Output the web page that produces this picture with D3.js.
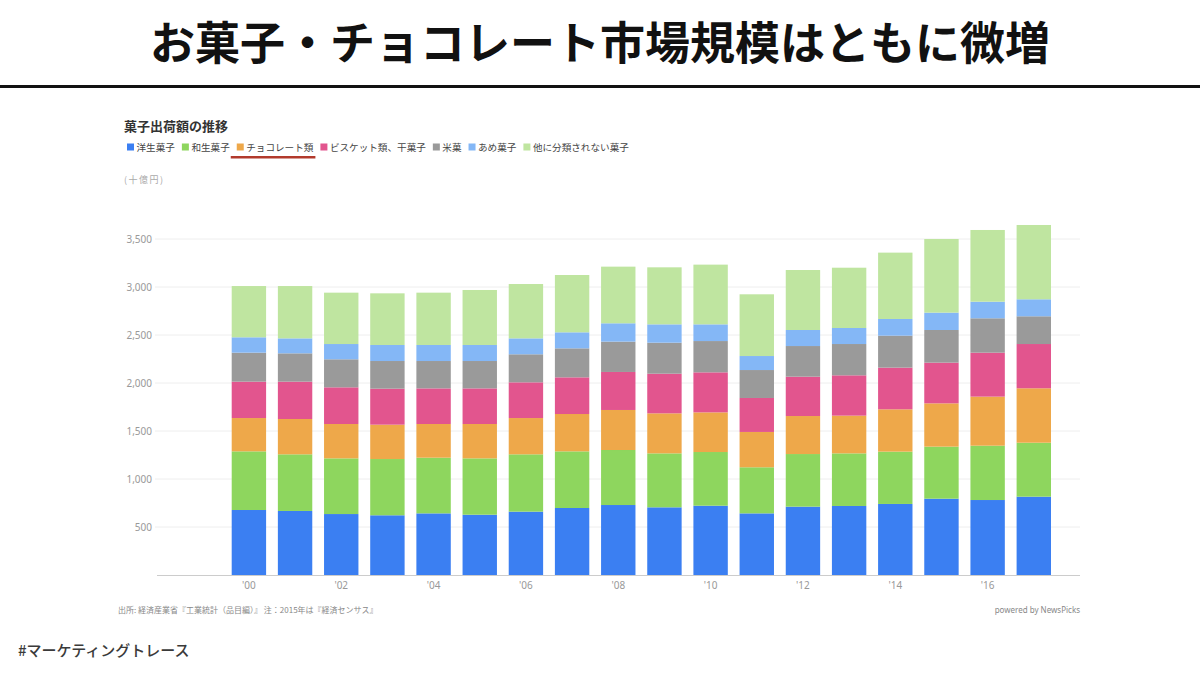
<!DOCTYPE html>
<html><head><meta charset="utf-8">
<script src="https://cdn.jsdelivr.net/npm/d3@7"></script>
<style>
html,body{margin:0;padding:0;background:#fff;}
svg{display:block;font-family:"Noto Sans CJK JP","Noto Sans",sans-serif;}
</style></head>
<body>
<svg id="c" width="1200" height="675"></svg>
<script>
const years = [2000,2001,2002,2003,2004,2005,2006,2007,2008,2009,2010,2011,2012,2013,2014,2015,2016,2017];
const seriesNames = ["洋生菓子","和生菓子","チョコレート類","ビスケット類、干菓子","米菓","あめ菓子","他に分類されない菓子"];
const seriesColors = ["#3b7ff2","#8ed65e","#eea84a","#e2558e","#9a9a9a","#84b7f6","#bfe5a0"];
const yoka   = [677,667,635,622,642,628,660,698,729,705,722,642,712,719,740,795,781,816];
const wagashi= [611,590,580,586,580,587,597,590,573,562,559,480,548,548,545,542,566,562];
const choco  = [347,368,358,358,351,358,378,389,417,417,413,368,396,393,441,451,511,567];
const biscuit= [379,389,382,375,371,371,372,382,396,413,417,354,410,420,434,424,458,461];
const beika  = [302,295,292,288,285,285,292,302,316,323,326,291,319,326,333,340,358,289];
const ame    = [160,156,159,167,167,167,166,167,191,191,174,146,167,167,174,181,173,177];
const other  = [534,545,535,538,545,573,566,597,590,594,622,643,625,628,691,767,747,774];
const yTicks = [500,1000,1500,2000,2500,3000,3500];
const xTickYears = [2000,2002,2004,2006,2008,2010,2012,2014,2016];

const seriesValues = [yoka,wagashi,choco,biscuit,beika,ame,other];
const keys = seriesNames;
const rows = years.map((yr,i)=>{const r={year:yr}; keys.forEach((k,j)=>r[k]=seriesValues[j][i]); return r;});

const svg = d3.select("#c");

// Title
svg.append("text").attr("x",600).attr("y",60).attr("text-anchor","middle")
  .attr("font-size",45).attr("font-weight",700).attr("fill","#111")
  .text("お菓子・チョコレート市場規模はともに微増");
svg.append("rect").attr("x",0).attr("y",85).attr("width",1200).attr("height",3).attr("fill","#111");

// Subtitle
svg.append("text").attr("x",124).attr("y",131).attr("font-size",13).attr("font-weight",700).attr("fill","#333").text("菓子出荷額の推移");

// Legend
let lx = 127;
const ly = 151;
const legendPos = [];
seriesNames.forEach((name,i)=>{
  svg.append("rect").attr("x",lx).attr("y",ly-7.5).attr("width",7).attr("height",7).attr("fill",seriesColors[i]);
  const t = svg.append("text").attr("x",lx+9.5).attr("y",ly).attr("font-size",9.6).attr("fill","#444").text(name);
  const w = t.node().getComputedTextLength();
  legendPos.push([lx, lx+9.5+w]);
  lx = lx + 9.5 + w + 7;
});
// red underline under chocolate
svg.append("rect").attr("x",legendPos[2][0]-6).attr("y",156).attr("width",legendPos[2][1]-legendPos[2][0]+8).attr("height",2.5).attr("fill","#b23a2c");

svg.append("text").attr("x",124).attr("y",183).attr("font-size",9).attr("letter-spacing",1.5).attr("fill","#aaa").text("(十億円)");

// Scales
const y = d3.scaleLinear().domain([0,3500]).range([575,239]);
const x = d3.scaleBand().domain(years).range([231.7,1051]).paddingInner(0.255).paddingOuter(0);

// grid
const gGrid = svg.append("g");
gGrid.selectAll("line").data(yTicks).join("line")
  .attr("x1",155).attr("x2",1080).attr("y1",d=>y(d)).attr("y2",d=>y(d))
  .attr("stroke","#eeeeee").attr("stroke-width",1);

// y axis labels
const yAxis = d3.axisLeft(y).tickValues(yTicks).tickSize(0).tickPadding(0).tickFormat(d3.format(","));
const gy = svg.append("g").attr("transform","translate(152,0)").call(yAxis);
gy.select(".domain").remove();
gy.selectAll("text").attr("font-size",10).attr("fill","#999").attr("font-family","\"Noto Sans\",sans-serif");

// stacked bars
const stack = d3.stack().keys(keys)(rows);
svg.append("g").selectAll("g").data(stack).join("g")
  .attr("fill",(d,i)=>seriesColors[i])
  .selectAll("rect").data(d=>d).join("rect")
  .attr("x",d=>x(d.data.year)).attr("width",x.bandwidth())
  .attr("y",d=>y(d[1])).attr("height",d=>y(d[0])-y(d[1]));

// baseline
svg.append("line").attr("x1",157).attr("x2",1080).attr("y1",575.5).attr("y2",575.5).attr("stroke","#cccccc").attr("stroke-width",1.2);

// x axis
const xAxis = d3.axisBottom(x).tickValues(xTickYears).tickSize(0).tickPadding(0)
  .tickFormat(d=>"'"+String(d).slice(2));
const gx = svg.append("g").attr("transform","translate(0,582)").call(xAxis);
gx.select(".domain").remove();
gx.selectAll("text").attr("font-size",10).attr("fill","#999").attr("font-family","\"Noto Sans\",sans-serif");

// footer
svg.append("text").attr("x",118).attr("y",613).attr("font-size",8).attr("fill","#888")
  .text("出所: 経済産業省『工業統計（品目編）』 注：2015年は『経済センサス』");
svg.append("text").attr("x",1080).attr("y",613).attr("text-anchor","end").attr("font-size",8).attr("fill","#888")
  .attr("font-family","\"Noto Sans\",sans-serif").text("powered by NewsPicks");

svg.append("text").attr("x",18).attr("y",656).attr("font-size",15).attr("font-weight",500).attr("fill","#3a3a3a")
  .text("#マーケティングトレース");
</script>
</body></html>
